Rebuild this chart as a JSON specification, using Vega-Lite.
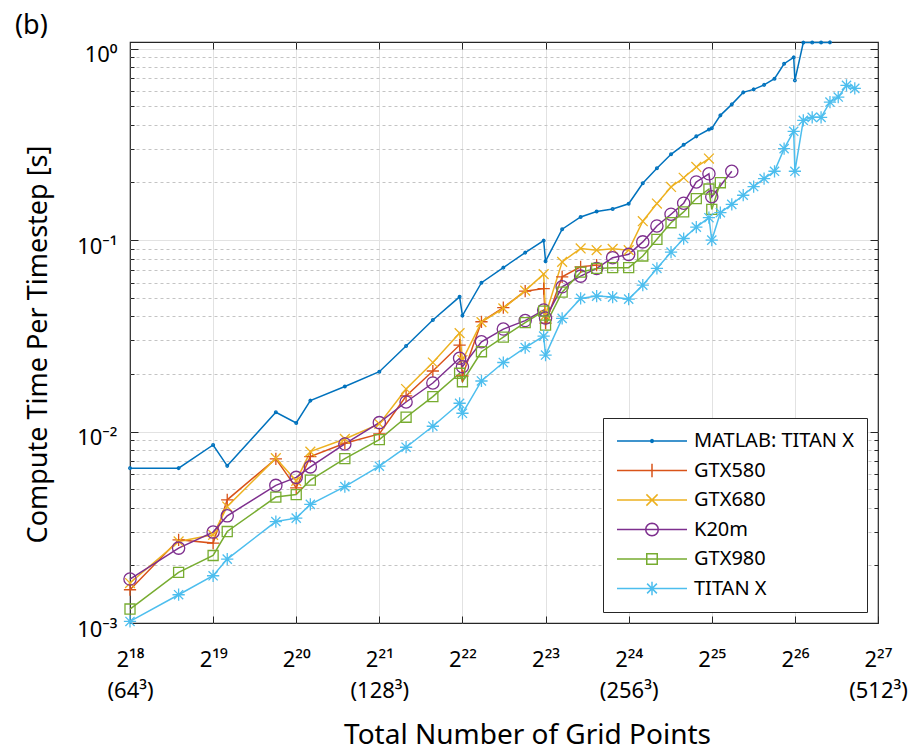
{
  "$schema": "https://vega.github.io/schema/vega-lite/v6.json",
  "width": 748,
  "height": 581,
  "autosize": {"type": "none"},
  "padding": {"left": 130, "top": 42, "right": 41, "bottom": 128},
  "background": "white",
  "config": {
    "font": "Noto Sans",
    "view": {"stroke": "#262626", "strokeWidth": 1.2},
    "axis": {"labelColor": "black", "titleColor": "black", "tickColor": "#262626", "tickWidth": 1, "labelFlush": false, "labelOverlap": false, "domain": false}
  },
  "title": {"text": "(b)", "anchor": "start", "frame": "group", "dx": -115, "dy": 6, "offset": 4, "fontSize": 27, "fontWeight": "normal", "color": "black", "font": "Noto Sans"},
  "data": {"values": [
    {"gpu":"MATLAB: TITAN X","n":262144,"t":0.00644},
    {"gpu":"MATLAB: TITAN X","n":393216,"t":0.00644},
    {"gpu":"MATLAB: TITAN X","n":524288,"t":0.00851},
    {"gpu":"MATLAB: TITAN X","n":589824,"t":0.00662},
    {"gpu":"MATLAB: TITAN X","n":884736,"t":0.01261},
    {"gpu":"MATLAB: TITAN X","n":1048576,"t":0.01109},
    {"gpu":"MATLAB: TITAN X","n":1179648,"t":0.0145},
    {"gpu":"MATLAB: TITAN X","n":1572864,"t":0.01719},
    {"gpu":"MATLAB: TITAN X","n":2097152,"t":0.02054},
    {"gpu":"MATLAB: TITAN X","n":2621440,"t":0.02796},
    {"gpu":"MATLAB: TITAN X","n":3276800,"t":0.03823},
    {"gpu":"MATLAB: TITAN X","n":4096000,"t":0.05055},
    {"gpu":"MATLAB: TITAN X","n":4194304,"t":0.04032},
    {"gpu":"MATLAB: TITAN X","n":4915200,"t":0.0599},
    {"gpu":"MATLAB: TITAN X","n":5898240,"t":0.07178},
    {"gpu":"MATLAB: TITAN X","n":7077888,"t":0.086},
    {"gpu":"MATLAB: TITAN X","n":8257536,"t":0.0993},
    {"gpu":"MATLAB: TITAN X","n":8388608,"t":0.0776},
    {"gpu":"MATLAB: TITAN X","n":9633792,"t":0.114},
    {"gpu":"MATLAB: TITAN X","n":11239424,"t":0.1321},
    {"gpu":"MATLAB: TITAN X","n":12845056,"t":0.141},
    {"gpu":"MATLAB: TITAN X","n":14680064,"t":0.1453},
    {"gpu":"MATLAB: TITAN X","n":16777216,"t":0.1548},
    {"gpu":"MATLAB: TITAN X","n":18874368,"t":0.198},
    {"gpu":"MATLAB: TITAN X","n":21233664,"t":0.2372},
    {"gpu":"MATLAB: TITAN X","n":23887872,"t":0.2806},
    {"gpu":"MATLAB: TITAN X","n":26542080,"t":0.3145},
    {"gpu":"MATLAB: TITAN X","n":29491200,"t":0.3483},
    {"gpu":"MATLAB: TITAN X","n":32768000,"t":0.378},
    {"gpu":"MATLAB: TITAN X","n":33554432,"t":0.3835},
    {"gpu":"MATLAB: TITAN X","n":36044800,"t":0.4483},
    {"gpu":"MATLAB: TITAN X","n":39649280,"t":0.5116},
    {"gpu":"MATLAB: TITAN X","n":43614208,"t":0.5908},
    {"gpu":"MATLAB: TITAN X","n":47579136,"t":0.6126},
    {"gpu":"MATLAB: TITAN X","n":51904512,"t":0.6466},
    {"gpu":"MATLAB: TITAN X","n":56623104,"t":0.6966},
    {"gpu":"MATLAB: TITAN X","n":61341696,"t":0.834},
    {"gpu":"MATLAB: TITAN X","n":66453504,"t":0.9},
    {"gpu":"MATLAB: TITAN X","n":67108864,"t":0.6824},
    {"gpu":"MATLAB: TITAN X","n":71991296,"t":1.075},
    {"gpu":"MATLAB: TITAN X","n":77529088,"t":1.076},
    {"gpu":"MATLAB: TITAN X","n":83492864,"t":1.077},
    {"gpu":"MATLAB: TITAN X","n":89915392,"t":1.078},

    {"gpu":"GTX580","n":262144,"t":0.001492},
    {"gpu":"GTX580","n":393216,"t":0.00272},
    {"gpu":"GTX580","n":524288,"t":0.002615},
    {"gpu":"GTX580","n":589824,"t":0.0044},
    {"gpu":"GTX580","n":884736,"t":0.0072},
    {"gpu":"GTX580","n":1048576,"t":0.00508},
    {"gpu":"GTX580","n":1179648,"t":0.0074},
    {"gpu":"GTX580","n":1572864,"t":0.00869},
    {"gpu":"GTX580","n":2097152,"t":0.00972},
    {"gpu":"GTX580","n":2621440,"t":0.01534},
    {"gpu":"GTX580","n":3276800,"t":0.02071},
    {"gpu":"GTX580","n":4096000,"t":0.0283},
    {"gpu":"GTX580","n":4194304,"t":0.0195},
    {"gpu":"GTX580","n":4915200,"t":0.03744},
    {"gpu":"GTX580","n":5898240,"t":0.04441},
    {"gpu":"GTX580","n":7077888,"t":0.05412},
    {"gpu":"GTX580","n":8257536,"t":0.05578},
    {"gpu":"GTX580","n":8388608,"t":0.03686},
    {"gpu":"GTX580","n":9633792,"t":0.06427},
    {"gpu":"GTX580","n":11239424,"t":0.0725},
    {"gpu":"GTX580","n":12845056,"t":0.074},

    {"gpu":"GTX680","n":262144,"t":0.001617},
    {"gpu":"GTX680","n":393216,"t":0.002666},
    {"gpu":"GTX680","n":524288,"t":0.002888},
    {"gpu":"GTX680","n":589824,"t":0.004058},
    {"gpu":"GTX680","n":884736,"t":0.007256},
    {"gpu":"GTX680","n":1048576,"t":0.005525},
    {"gpu":"GTX680","n":1179648,"t":0.007858},
    {"gpu":"GTX680","n":1572864,"t":0.00915},
    {"gpu":"GTX680","n":2097152,"t":0.01096},
    {"gpu":"GTX680","n":2621440,"t":0.01668},
    {"gpu":"GTX680","n":3276800,"t":0.02294},
    {"gpu":"GTX680","n":4096000,"t":0.03268},
    {"gpu":"GTX680","n":4194304,"t":0.02364},
    {"gpu":"GTX680","n":4915200,"t":0.0373},
    {"gpu":"GTX680","n":5898240,"t":0.04398},
    {"gpu":"GTX680","n":7077888,"t":0.05445},
    {"gpu":"GTX680","n":8257536,"t":0.0664},
    {"gpu":"GTX680","n":8388608,"t":0.04058},
    {"gpu":"GTX680","n":9633792,"t":0.07698},
    {"gpu":"GTX680","n":11239424,"t":0.09042},
    {"gpu":"GTX680","n":12845056,"t":0.08859},
    {"gpu":"GTX680","n":14680064,"t":0.08998},
    {"gpu":"GTX680","n":16777216,"t":0.08859},
    {"gpu":"GTX680","n":18874368,"t":0.1255},
    {"gpu":"GTX680","n":21233664,"t":0.1552},
    {"gpu":"GTX680","n":23887872,"t":0.1894},
    {"gpu":"GTX680","n":26542080,"t":0.2116},
    {"gpu":"GTX680","n":29491200,"t":0.2409},
    {"gpu":"GTX680","n":32768000,"t":0.2666},

    {"gpu":"K20m","n":262144,"t":0.001696},
    {"gpu":"K20m","n":393216,"t":0.002461},
    {"gpu":"K20m","n":524288,"t":0.002984},
    {"gpu":"K20m","n":589824,"t":0.003628},
    {"gpu":"K20m","n":884736,"t":0.005233},
    {"gpu":"K20m","n":1048576,"t":0.005763},
    {"gpu":"K20m","n":1179648,"t":0.006537},
    {"gpu":"K20m","n":1572864,"t":0.008616},
    {"gpu":"K20m","n":2097152,"t":0.01113},
    {"gpu":"K20m","n":2621440,"t":0.01427},
    {"gpu":"K20m","n":3276800,"t":0.01793},
    {"gpu":"K20m","n":4096000,"t":0.02413},
    {"gpu":"K20m","n":4194304,"t":0.02181},
    {"gpu":"K20m","n":4915200,"t":0.02944},
    {"gpu":"K20m","n":5898240,"t":0.03429},
    {"gpu":"K20m","n":7077888,"t":0.03798},
    {"gpu":"K20m","n":8257536,"t":0.04309},
    {"gpu":"K20m","n":8388608,"t":0.03914},
    {"gpu":"K20m","n":9633792,"t":0.057},
    {"gpu":"K20m","n":11239424,"t":0.06483},
    {"gpu":"K20m","n":12845056,"t":0.0711},
    {"gpu":"K20m","n":14680064,"t":0.08095},
    {"gpu":"K20m","n":16777216,"t":0.08423},
    {"gpu":"K20m","n":18874368,"t":0.09786},
    {"gpu":"K20m","n":21233664,"t":0.1185},
    {"gpu":"K20m","n":23887872,"t":0.1365},
    {"gpu":"K20m","n":26542080,"t":0.1558},
    {"gpu":"K20m","n":29491200,"t":0.2012},
    {"gpu":"K20m","n":32768000,"t":0.222},
    {"gpu":"K20m","n":33554432,"t":0.1684},
    {"gpu":"K20m","n":39649280,"t":0.2288},

    {"gpu":"GTX980","n":262144,"t":0.001183},
    {"gpu":"GTX980","n":393216,"t":0.001837},
    {"gpu":"GTX980","n":524288,"t":0.002252},
    {"gpu":"GTX980","n":589824,"t":0.003005},
    {"gpu":"GTX980","n":884736,"t":0.004548},
    {"gpu":"GTX980","n":1048576,"t":0.004686},
    {"gpu":"GTX980","n":1179648,"t":0.005572},
    {"gpu":"GTX980","n":1572864,"t":0.007221},
    {"gpu":"GTX980","n":2097152,"t":0.009074},
    {"gpu":"GTX980","n":2621440,"t":0.01188},
    {"gpu":"GTX980","n":3276800,"t":0.01521},
    {"gpu":"GTX980","n":4096000,"t":0.02015},
    {"gpu":"GTX980","n":4194304,"t":0.01821},
    {"gpu":"GTX980","n":4915200,"t":0.02611},
    {"gpu":"GTX980","n":5898240,"t":0.03115},
    {"gpu":"GTX980","n":7077888,"t":0.03708},
    {"gpu":"GTX980","n":8257536,"t":0.04257},
    {"gpu":"GTX980","n":8388608,"t":0.03598},
    {"gpu":"GTX980","n":9633792,"t":0.05348},
    {"gpu":"GTX980","n":11239424,"t":0.06802},
    {"gpu":"GTX980","n":12845056,"t":0.0711},
    {"gpu":"GTX980","n":14680064,"t":0.07178},
    {"gpu":"GTX980","n":16777216,"t":0.07178},
    {"gpu":"GTX980","n":18874368,"t":0.08262},
    {"gpu":"GTX980","n":21233664,"t":0.1009},
    {"gpu":"GTX980","n":23887872,"t":0.1232},
    {"gpu":"GTX980","n":26542080,"t":0.1403},
    {"gpu":"GTX980","n":29491200,"t":0.1648},
    {"gpu":"GTX980","n":32768000,"t":0.1848},
    {"gpu":"GTX980","n":33554432,"t":0.1446},
    {"gpu":"GTX980","n":36044800,"t":0.1993},

    {"gpu":"TITAN X","n":262144,"t":0.001019},
    {"gpu":"TITAN X","n":393216,"t":0.001405},
    {"gpu":"TITAN X","n":524288,"t":0.001765},
    {"gpu":"TITAN X","n":589824,"t":0.002157},
    {"gpu":"TITAN X","n":884736,"t":0.003388},
    {"gpu":"TITAN X","n":1048576,"t":0.003529},
    {"gpu":"TITAN X","n":1179648,"t":0.004166},
    {"gpu":"TITAN X","n":1572864,"t":0.005159},
    {"gpu":"TITAN X","n":2097152,"t":0.006592},
    {"gpu":"TITAN X","n":2621440,"t":0.008281},
    {"gpu":"TITAN X","n":3276800,"t":0.01066},
    {"gpu":"TITAN X","n":4096000,"t":0.01405},
    {"gpu":"TITAN X","n":4194304,"t":0.01246},
    {"gpu":"TITAN X","n":4915200,"t":0.01837},
    {"gpu":"TITAN X","n":5898240,"t":0.02294},
    {"gpu":"TITAN X","n":7077888,"t":0.02746},
    {"gpu":"TITAN X","n":8257536,"t":0.03153},
    {"gpu":"TITAN X","n":8388608,"t":0.02509},
    {"gpu":"TITAN X","n":9633792,"t":0.03899},
    {"gpu":"TITAN X","n":11239424,"t":0.0496},
    {"gpu":"TITAN X","n":12845056,"t":0.05098},
    {"gpu":"TITAN X","n":14680064,"t":0.05037},
    {"gpu":"TITAN X","n":16777216,"t":0.04918},
    {"gpu":"TITAN X","n":18874368,"t":0.05817},
    {"gpu":"TITAN X","n":21233664,"t":0.0711},
    {"gpu":"TITAN X","n":23887872,"t":0.08648},
    {"gpu":"TITAN X","n":26542080,"t":0.1019},
    {"gpu":"TITAN X","n":29491200,"t":0.1168},
    {"gpu":"TITAN X","n":32768000,"t":0.1309},
    {"gpu":"TITAN X","n":33554432,"t":0.0999},
    {"gpu":"TITAN X","n":36044800,"t":0.139},
    {"gpu":"TITAN X","n":39649280,"t":0.1536},
    {"gpu":"TITAN X","n":43614208,"t":0.1715},
    {"gpu":"TITAN X","n":47579136,"t":0.1904},
    {"gpu":"TITAN X","n":51904512,"t":0.2096},
    {"gpu":"TITAN X","n":56623104,"t":0.2288},
    {"gpu":"TITAN X","n":61341696,"t":0.3004},
    {"gpu":"TITAN X","n":66453504,"t":0.37},
    {"gpu":"TITAN X","n":67108864,"t":0.2288},
    {"gpu":"TITAN X","n":71991296,"t":0.4222},
    {"gpu":"TITAN X","n":77529088,"t":0.4376},
    {"gpu":"TITAN X","n":83492864,"t":0.4376},
    {"gpu":"TITAN X","n":89915392,"t":0.5259},
    {"gpu":"TITAN X","n":96337920,"t":0.5585},
    {"gpu":"TITAN X","n":103219200,"t":0.6429},
    {"gpu":"TITAN X","n":110592000,"t":0.6199}
  ]},
  "layer": [
    {
      "mark": {"type": "line", "strokeWidth": 1.5},
      "encoding": {
        "x": {
          "field": "n", "type": "quantitative",
          "scale": {"type": "log", "base": 2, "domain": [262144, 134217728], "nice": false},
          "axis": {
            "orient": "bottom",
            "values": [262144, 524288, 1048576, 2097152, 4194304, 8388608, 16777216, 33554432, 67108864, 134217728],
            "labelExpr": "'2' + ['¹⁸','¹⁹','²⁰','²¹','²²','²³','²⁴','²⁵','²⁶','²⁷'][round(log(datum.value)/log(2)) - 18]",
            "labelFontSize": 22, "labelPadding": 26, "ticks": false,
            "grid": true, "gridColor": "#e2e2e2", "gridWidth": 1,
            "gridOpacity": {"condition": {"test": "datum.value == 262144 || datum.value == 134217728", "value": 0}, "value": 1},
            "title": "Total Number of Grid Points", "titleFontSize": 28, "titleFontWeight": "normal",
            "titleX": 397, "titleY": 98, "titleBaseline": "top"
          }
        },
        "y": {
          "field": "t", "type": "quantitative",
          "scale": {"type": "log", "domain": [0.001, 1.083], "nice": false},
          "axis": {
            "orient": "left",
            "values": [0.001,0.002,0.003,0.004,0.005,0.006,0.007,0.008,0.009,0.01,0.02,0.03,0.04,0.05,0.06,0.07,0.08,0.09,0.1,0.2,0.3,0.4,0.5,0.6,0.7,0.8,0.9,1],
            "labelExpr": "datum.value == 1 ? '10⁰' : datum.value == 0.1 ? '10⁻¹' : datum.value == 0.01 ? '10⁻²' : datum.value == 0.001 ? '10⁻³' : ''",
            "labelFontSize": 22, "labelPadding": 13, "labelBaseline": "middle", "labelOffset": 6, "ticks": false,
            "grid": true,
            "gridColor": {"condition": {"test": "datum.value == 1 || datum.value == 0.1 || datum.value == 0.01 || datum.value == 0.001", "value": "#e2e2e2"}, "value": "#c4c4c4"},
            "gridDash": {"condition": {"test": "datum.value == 1 || datum.value == 0.1 || datum.value == 0.01 || datum.value == 0.001", "value": []}, "value": [3, 3]},
            "gridOpacity": {"condition": {"test": "datum.value == 0.001", "value": 0}, "value": 1},
            "title": "Compute Time Per Timestep [s]", "titleFontSize": 27, "titleFontWeight": "normal",
            "titleX": -78, "titleY": 302
          }
        },
        "color": {
          "field": "gpu", "type": "nominal",
          "scale": {"domain": ["MATLAB: TITAN X", "GTX580", "GTX680", "K20m", "GTX980", "TITAN X"], "range": ["#0072BD", "#D95319", "#EDB120", "#7E2F8E", "#77AC30", "#4DBEEE"]},
          "legend": {
            "title": null, "orient": "bottom-right", "offset": 11,
            "strokeColor": "#262626", "fillColor": "white", "padding": 13,
            "symbolSize": 4900, "symbolStrokeWidth": 1.5, "symbolOffset": 0,
            "labelFontSize": 20, "labelColor": "black", "labelOffset": 6, "labelLimit": 300,
            "rowPadding": 9.5, "clipHeight": 20,
            "encode": {
              "symbols": {
                "update": {
                  "fill": {"value": "transparent"},
                  "shape": {"signal": "datum.value == 'MATLAB: TITAN X' ? 'M-1,0L1,0M0.04,0L0.028,0.028L0,0.04L-0.028,0.028L-0.04,0L-0.028,-0.028L0,-0.04L0.028,-0.028Z' : datum.value == 'GTX580' ? 'M-1,0L1,0M0,-0.19L0,0.19' : datum.value == 'GTX680' ? 'M-1,0L1,0M-0.16,-0.16L0.16,0.16M-0.16,0.16L0.16,-0.16' : datum.value == 'K20m' ? 'M-1,0L1,0M0.18,0L0.1663,0.0689L0.1273,0.1273L0.0689,0.1663L0,0.18L-0.0689,0.1663L-0.1273,0.1273L-0.1663,0.0689L-0.18,0L-0.1663,-0.0689L-0.1273,-0.1273L-0.0689,-0.1663L0,-0.18L0.0689,-0.1663L0.1273,-0.1273L0.1663,-0.0689Z' : datum.value == 'GTX980' ? 'M-1,0L1,0M-0.15,-0.15L0.15,-0.15L0.15,0.15L-0.15,0.15Z' : 'M-1,0L1,0M0,-0.19L0,0.19M-0.14,-0.14L0.14,0.14M-0.14,0.14L0.14,-0.14'"}
                }
              }
            }
          }
        }
      }
    },
    {
      "mark": {"type": "point", "filled": false, "size": 150, "strokeWidth": 1.3, "opacity": 1},
      "encoding": {
        "x": {
          "field": "n", "type": "quantitative",
          "axis": {"orient": "top", "values": [524288, 1048576, 2097152, 4194304, 8388608, 16777216, 33554432, 67108864], "labels": false, "grid": false, "tickSize": -7, "title": null}
        },
        "y": {
          "field": "t", "type": "quantitative",
          "axis": {
            "orient": "right", "labels": false, "grid": false, "title": null,
            "values": [0.002,0.003,0.004,0.005,0.006,0.007,0.008,0.009,0.01,0.02,0.03,0.04,0.05,0.06,0.07,0.08,0.09,0.1,0.2,0.3,0.4,0.5,0.6,0.7,0.8,0.9,1],
            "tickSize": {"condition": {"test": "datum.value == 1 || datum.value == 0.1 || datum.value == 0.01", "value": -8}, "value": -4}
          }
        },
        "stroke": {
          "field": "gpu", "type": "nominal", "legend": null,
          "scale": {"domain": ["GTX680", "MATLAB: TITAN X", "GTX580", "K20m", "GTX980", "TITAN X"], "range": ["#EDB120", "#0072BD", "#D95319", "#7E2F8E", "#77AC30", "#4DBEEE"]}
        },
        "shape": {
          "field": "gpu", "type": "nominal", "legend": null,
          "scale": {
            "domain": ["GTX580", "MATLAB: TITAN X", "GTX680", "K20m", "GTX980", "TITAN X"],
            "range": [
              "M-1,0L1,0M0,-1L0,1",
              "M0.22,0L0.156,0.156L0,0.22L-0.156,0.156L-0.22,0L-0.156,-0.156L0,-0.22L0.156,-0.156Z",
              "M-0.8,-0.8L0.8,0.8M-0.8,0.8L0.8,-0.8",
              "circle",
              "M-0.82,-0.82L0.82,-0.82L0.82,0.82L-0.82,0.82Z",
              "M-1,0L1,0M0,-1L0,1M-0.75,-0.75L0.75,0.75M-0.75,0.75L0.75,-0.75"
            ]
          }
        }
      }
    },
    {
      "mark": {"type": "point", "opacity": 0},
      "encoding": {
        "x": {
          "field": "n", "type": "quantitative",
          "axis": {
            "orient": "bottom", "title": null, "grid": false, "tickSize": -7,
            "values": [524288, 1048576, 2097152, 4194304, 8388608, 16777216, 33554432, 67108864, 262144, 134217728],
            "labelExpr": "datum.value == 262144 ? '(64³)' : datum.value == 2097152 ? '(128³)' : datum.value == 16777216 ? '(256³)' : datum.value == 134217728 ? '(512³)' : ''",
            "labelFontSize": 22, "labelPadding": 64
          }
        },
        "y": {
          "field": "t", "type": "quantitative",
          "axis": {
            "orient": "left", "labels": false, "grid": false, "title": null,
            "values": [0.002,0.003,0.004,0.005,0.006,0.007,0.008,0.009,0.01,0.02,0.03,0.04,0.05,0.06,0.07,0.08,0.09,0.1,0.2,0.3,0.4,0.5,0.6,0.7,0.8,0.9,1],
            "tickSize": {"condition": {"test": "datum.value == 1 || datum.value == 0.1 || datum.value == 0.01", "value": -8}, "value": -4}
          }
        }
      }
    }
  ],
  "resolve": {"axis": {"x": "independent", "y": "independent"}}
}
